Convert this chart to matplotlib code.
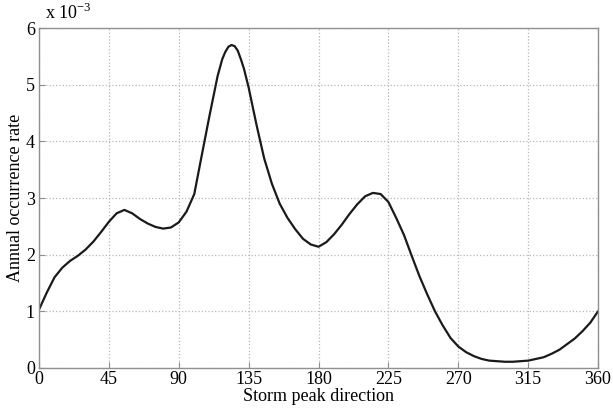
import matplotlib
matplotlib.use("Agg")
import matplotlib.pyplot as plt

plt.rcParams['font.family'] = ['Liberation Serif', 'DejaVu Serif']
plt.rcParams['mathtext.fontset'] = 'custom'
plt.rcParams['mathtext.rm'] = 'Liberation Serif'

direction = [0, 5, 10, 15, 20, 25, 30, 35, 40, 45, 50, 55, 60, 65, 70, 75, 80, 85,
             90, 95, 100, 105, 110, 115, 118, 120, 122, 124, 126, 128, 130, 132, 135,
             140, 145, 150, 155, 160, 165, 170, 175, 180, 185, 190, 195, 200, 205,
             210, 215, 220, 225, 230, 235, 240, 245, 250, 255, 260, 265, 270, 275,
             280, 285, 290, 295, 300, 305, 310, 315, 320, 325, 330, 335, 340, 345,
             350, 355, 360]
rate = [1.03, 1.33, 1.60, 1.77, 1.89, 1.98, 2.09, 2.23, 2.40, 2.58, 2.73, 2.79, 2.73,
        2.63, 2.55, 2.49, 2.46, 2.48, 2.57, 2.76, 3.07, 3.78, 4.48, 5.15, 5.45, 5.58,
        5.67, 5.70, 5.68, 5.60, 5.45, 5.28, 4.95, 4.30, 3.70, 3.25, 2.90, 2.65, 2.45,
        2.28, 2.18, 2.14, 2.22, 2.36, 2.53, 2.72, 2.89, 3.03, 3.09, 3.07, 2.93, 2.65,
        2.35, 1.98, 1.62, 1.30, 1.00, 0.75, 0.53, 0.38, 0.28, 0.21, 0.16, 0.13, 0.12,
        0.11, 0.11, 0.12, 0.13, 0.16, 0.19, 0.25, 0.32, 0.42, 0.52, 0.65, 0.80, 1.00]
x_ticks = [0, 45, 90, 135, 180, 225, 270, 315, 360]
y_ticks = [0, 1, 2, 3, 4, 5, 6]

fig = plt.figure(figsize=(6.13, 4.12), dpi=100)
ax = fig.add_axes([0.0636, 0.1068, 0.912, 0.8252])
ax.plot(direction, rate, color='#1a1a1a', lw=1.6, solid_joinstyle='round',
        solid_capstyle='round')
ax.set_xlim(0, 360)
ax.set_ylim(0, 6)
ax.set_xticks(x_ticks)
ax.set_yticks(y_ticks)
ax.grid(True, color='#b8b8b8', linestyle=':', linewidth=0.9)
for s in ax.spines.values():
    s.set_color('#909090')
    s.set_linewidth(1.0)
ax.tick_params(direction='in', length=4, color='#909090', labelsize=13)
ax.tick_params(axis='x', pad=2)
ax.tick_params(axis='y', pad=3)
ax.set_xlabel('Storm peak direction', fontsize=13, labelpad=0)
ax.set_ylabel('Annual occurrence rate', fontsize=13, labelpad=1)
fig.text(0.073, 0.945, r'x 10$^{-3}$', fontsize=13, ha='left', va='bottom')
fig.savefig('out.png', dpi=100)
